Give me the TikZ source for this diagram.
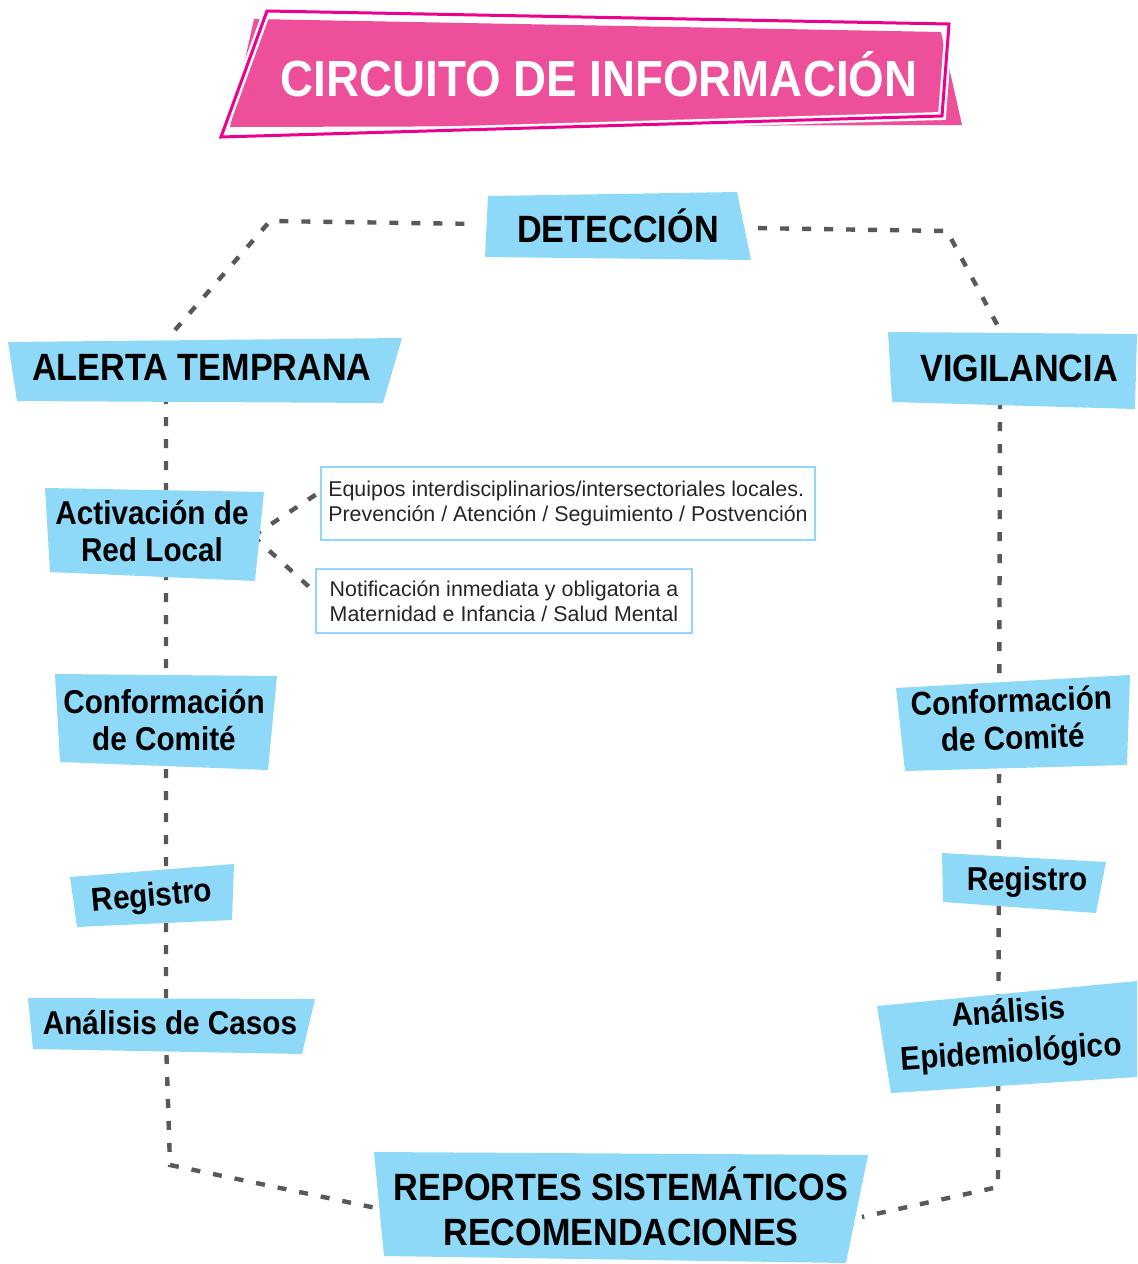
\documentclass[tikz,border=0pt]{standalone}
\usepackage{fontspec}
\setmainfont{Liberation Sans}[FakeStretch=0.9]
\newfontfamily\infofont{Liberation Sans}
\pgfdeclarelayer{links}
\pgfdeclarelayer{boxes}
\pgfsetlayers{links,boxes,main}
\definecolor{celeste}{HTML}{8ED8F8}
\definecolor{rosa}{HTML}{EE4F9A}
\definecolor{fucsia}{HTML}{EC008C}
\definecolor{gris}{HTML}{595959}
\tikzset{
  etapa/.style={font=\bfseries\fontsize{19}{22.5}\selectfont, align=center, inner sep=2pt},
  paso/.style={font=\bfseries\fontsize{16.5}{18.5}\selectfont, align=center, inner sep=2pt},
  nota/.style={draw=celeste, line width=1.2pt, fill=white, align=left, inner sep=3pt,
    font=\infofont\fontsize{10.7}{12.5}\selectfont, text=black!85},
  link/.style={draw=gris, line width=2.2pt, dash pattern=on 4.5pt off 6.5pt},
  caja/.style={fill=celeste}
}
\begin{document}
\begin{tikzpicture}[x=0.5pt,y=-0.5pt]
\useasboundingbox (0,0) rectangle (1137,1264);

\node[font=\bfseries\fontsize{25.4}{30}\selectfont, text=white] (titulo) at (599,74) {CIRCUITO DE INFORMACIÓN};

\node[etapa] (deteccion) at (618,226) {DETECCIÓN};
\node[etapa] (alerta) at (202,367) {ALERTA TEMPRANA};
\node[etapa] (vigilancia) at (1019,368) {VIGILANCIA};
\node[etapa] (reportes) at (621,1206) {REPORTES SISTEMÁTICOS\\RECOMENDACIONES};

\node[paso] (red) at (152,531) {Activación de\\Red Local};
\node[paso] (comiteA) at (164,720) {Conformación\\de Comité};
\node[paso, rotate=5] (registroA) at (152,898) {Registro};
\node[paso] (casos) at (170,1023) {Análisis de Casos};

\node[paso, rotate=2] (comiteV) at (1012,719) {Conformación\\de Comité};
\node[paso] (registroV) at (1027,882) {Registro};
\node[paso, rotate=4, font=\bfseries\fontsize{16.5}{20}\selectfont] (epidemio) at (1010,1034) {Análisis\\Epidemiológico};

\node[nota, minimum width=247pt, minimum height=36.5pt] (equipos) at (568,503.5)
  {Equipos interdisciplinarios/intersectoriales locales.\\Prevención / Atención / Seguimiento / Postvención};
\node[nota, minimum width=188pt, minimum height=32pt] (notif) at (504,601)
  {Notificación inmediata y obligatoria a\\Maternidad e Infancia / Salud Mental};

\coordinate (p1) at (175,330);
\coordinate (p2) at (270,221);
\coordinate (p4) at (947,231);
\coordinate (p5) at (1000,330);
\coordinate (p6) at (166,395);
\coordinate (p7) at (166,1040);
\coordinate (p8) at (170,1165);
\coordinate (p9) at (376,1208);
\coordinate (p10) at (1000,400);
\coordinate (p11) at (998,1187);
\coordinate (p12) at (862,1217);

\begin{pgfonlayer}{links}
\draw[link, shorten >=19.5pt] (p1) -- (p2) -- (deteccion);
\draw[link, shorten <=17.5pt] (deteccion) -- (p4) -- (p5);
\draw[link] (p6) -- (p7) -- (p8) -- (p9);
\draw[link] (p10) -- (p11) -- (p12);
\draw[link] ([yshift=-2.5pt]red.east) -- ([yshift=5.75pt]equipos.west);
\draw[link] ([yshift=-2.5pt]red.east) -- ([yshift=4.5pt]notif.west);
\end{pgfonlayer}

\begin{pgfonlayer}{boxes}
\fill[rosa] (254,19) -- (941,32) -- (962,125) -- (230,127) -- cycle;
\draw[white, line width=4pt, line join=miter] (267,11) -- (949,24) -- (942,116) -- (221,137) -- cycle;
\draw[fucsia, line width=1.5pt, line join=miter] (267,11) -- (949,24) -- (942,116) -- (221,137) -- cycle;

\fill[caja] (488,196) -- (737,192) -- (751,260) -- (485,257) -- cycle;
\fill[caja] (8,342) -- (402,338) -- (383,403) -- (17,401) -- cycle;
\fill[caja] (888,332) -- (1137,334) -- (1135,409) -- (892,402) -- cycle;
\fill[caja] (374,1152) -- (868,1155) -- (846,1263) -- (384,1256) -- cycle;

\fill[caja] (45,488) -- (264,492) -- (255,581) -- (50,572) -- cycle;
\fill[caja] (55,674) -- (277,676) -- (268,770) -- (60,762) -- cycle;
\fill[caja] (70,877) -- (234,864) -- (232,920) -- (77,927) -- cycle;
\fill[caja] (28,998) -- (315,999) -- (302,1054) -- (33,1049) -- cycle;

\fill[caja] (896,688) -- (1130,675) -- (1127,765) -- (905,771) -- cycle;
\fill[caja] (942,853) -- (1106,862) -- (1096,913) -- (943,902) -- cycle;
\fill[caja] (877,1006) -- (1137,981) -- (1137,1077) -- (891,1093) -- cycle;
\end{pgfonlayer}
\end{tikzpicture}
\end{document}
